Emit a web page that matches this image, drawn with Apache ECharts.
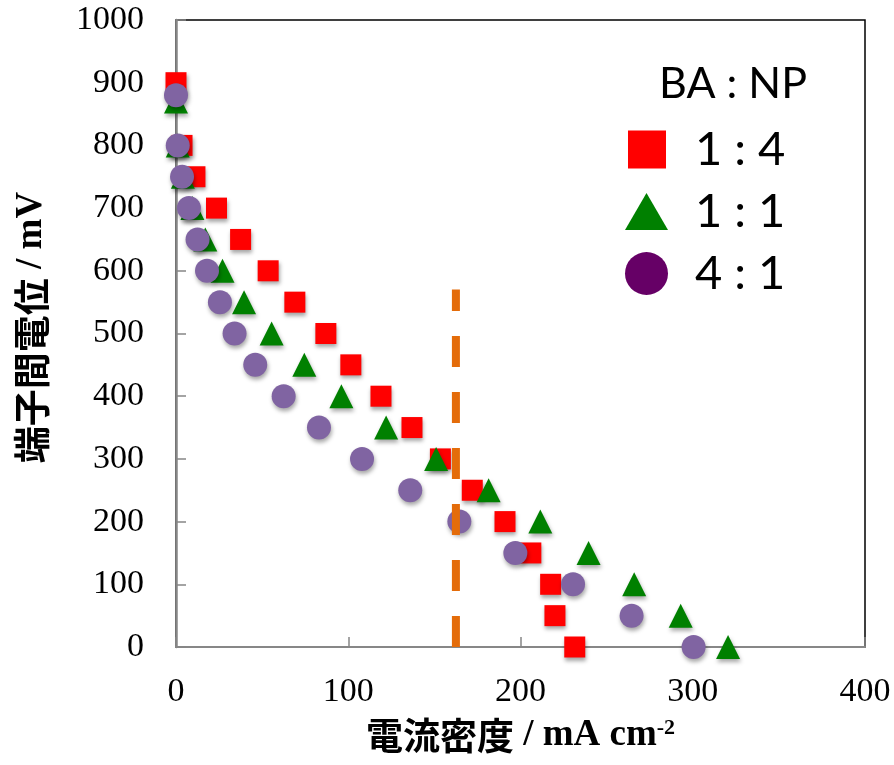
<!DOCTYPE html>
<html>
<head>
<meta charset="utf-8">
<style>
  html, body { margin: 0; padding: 0; background: #fff; }
  #chart { width: 894px; height: 765px; }
</style>
<script src="https://cdn.jsdelivr.net/npm/echarts@6/dist/echarts.min.js"></script>
</head>
<body>
<div id="chart"></div>
<script>
// Current density (mA cm-2) and terminal voltage (mV) for each BA : NP ratio
const seriesNames = ['1 : 4', '1 : 1', '4 : 1'];

const current14 = [0, 3.5, 11, 23.5, 37.5, 53.5, 69, 87, 101.5, 119, 137, 153.5, 172, 191, 206, 217.5, 220, 231.5];
const voltage14 = [900, 800, 750, 700, 650, 600, 550, 500, 450, 400, 350, 300, 250, 200, 150, 100, 50, 0];

const current11 = [0, 1, 4, 9.5, 17, 27, 39.5, 55.5, 74.5, 96, 122, 151, 181.5, 211.5, 239.5, 266, 293, 320.5];
const voltage11 = [870, 800, 750, 700, 650, 600, 550, 500, 450, 400, 350, 300, 250, 200, 150, 100, 50, 0];

const current41 = [0, 1, 3.5, 7.5, 12.5, 18, 25.5, 34, 46, 62.5, 83, 108, 136, 164.5, 197, 230.5, 264.5, 300.5];
const voltage41 = [880, 800, 750, 700, 650, 600, 550, 500, 450, 400, 350, 300, 250, 200, 150, 100, 50, 0];

// Vertical reference line (dashed)
const refCurrent = [162.5, 162.5];
const refVoltage = [0, 570];

const xRange = [0, 400];
const yRange = [0, 1000];

function pairs(xs, ys) { return xs.map((x, i) => [x, ys[i]]); }

const shadow = { opacity: 1, shadowColor: 'rgba(0,0,0,0.35)', shadowBlur: 4, shadowOffsetX: 1, shadowOffsetY: 3 };
const noShadow = { opacity: 1, shadowColor: 'rgba(0,0,0,0)', shadowBlur: 0, shadowOffsetX: 0, shadowOffsetY: 0 };

const legendText = { fontFamily: 'Lato', fontSize: 47, color: '#000', lineHeight: 44 };

const chart = echarts.init(document.getElementById('chart'), null, { renderer: 'canvas' });
chart.setOption({
  animation: false,
  backgroundColor: '#fff',
  grid: { left: 176, right: 29, top: 20, bottom: 118, show: true, borderColor: '#000', borderWidth: 1.5, containLabel: false },
  graphic: [{
    type: 'text', x: 733, y: 84, z: 10,
    style: { text: 'BA : NP', fontFamily: 'Lato', fontSize: 43, fill: '#000', align: 'center', verticalAlign: 'middle' }
  }],
  legend: [
    { data: [{ name: seriesNames[0], icon: 'rect', itemStyle: Object.assign({ color: '#FF0000' }, noShadow) }],
      left: 628, top: 126, padding: 0, itemWidth: 38, itemHeight: 38, textStyle: Object.assign({ padding: [0, 0, 0, 24] }, legendText) },
    { data: [{ name: seriesNames[1], icon: 'triangle', itemStyle: Object.assign({ color: '#008000' }, noShadow) }],
      left: 625, top: 188, padding: 0, itemWidth: 43, itemHeight: 37, textStyle: Object.assign({ padding: [0, 0, 0, 22] }, legendText) },
    { data: [{ name: seriesNames[2], icon: 'circle', itemStyle: Object.assign({ color: '#660066' }, noShadow) }],
      left: 625, top: 250, padding: 0, itemWidth: 43, itemHeight: 43, textStyle: Object.assign({ padding: [0, 0, 0, 22] }, legendText) }
  ],
  xAxis: {
    type: 'value', min: xRange[0], max: xRange[1], interval: 100,
    axisLine: { show: true, lineStyle: { color: '#878787', width: 2 } },
    axisTick: { show: true, inside: true, length: 10, lineStyle: { color: '#878787', width: 1.5 } },
    splitLine: { show: false },
    axisLabel: { color: '#000', fontFamily: 'Liberation Serif', fontSize: 34, margin: 28, formatter: v => String(v) },
    name: '{c|電流密度}{l| / mA cm}{s|-2}',
    nameLocation: 'middle', nameGap: 70,
    nameTextStyle: {
      rich: {
        c: { fontFamily: 'Noto Sans CJK JP', fontWeight: 'bold', fontSize: 37, color: '#000' },
        l: { fontFamily: 'Liberation Serif', fontWeight: 'bold', fontSize: 37, color: '#000' },
        s: { fontFamily: 'Liberation Serif', fontWeight: 'bold', fontSize: 22, color: '#000', verticalAlign: 'top', padding: [0, 0, 14, 0] }
      }
    }
  },
  yAxis: {
    type: 'value', min: yRange[0], max: yRange[1], interval: 100,
    axisLine: { show: true, lineStyle: { color: '#878787', width: 2.5 } },
    axisTick: { show: true, inside: true, length: 10, lineStyle: { color: '#878787', width: 1.5 } },
    splitLine: { show: false },
    axisLabel: { color: '#000', fontFamily: 'Liberation Serif', fontSize: 34, margin: 32, formatter: v => String(v) },
    name: '{c|端子間電位}{l| / mV}',
    nameLocation: 'middle', nameGap: 126, nameRotate: 90,
    nameTextStyle: {
      padding: [0, 0, 0, 12],
      rich: {
        c: { fontFamily: 'Noto Sans CJK JP', fontWeight: 'bold', fontSize: 37, color: '#000' },
        l: { fontFamily: 'Liberation Serif', fontWeight: 'bold', fontSize: 37, color: '#000' }
      }
    }
  },
  series: [
    { name: seriesNames[0], type: 'scatter', symbol: 'rect', symbolSize: 21,
      itemStyle: Object.assign({ color: '#FF0000' }, shadow), data: pairs(current14, voltage14), z: 2 },
    { name: seriesNames[1], type: 'scatter', symbol: 'triangle', symbolSize: [24, 24],
      itemStyle: Object.assign({ color: '#008000' }, shadow), data: pairs(current11, voltage11), z: 3 },
    { name: seriesNames[2], type: 'scatter', symbol: 'circle', symbolSize: 24,
      itemStyle: Object.assign({ color: '#8064A2' }, shadow), data: pairs(current41, voltage41), z: 4 },
    { name: 'ref', type: 'line', symbol: 'none', silent: true, z: 5,
      lineStyle: { color: '#E46C0A', width: 8, type: [31, 25], cap: 'butt' },
      data: pairs(refCurrent, refVoltage) }
  ]
});
</script>
</body>
</html>
